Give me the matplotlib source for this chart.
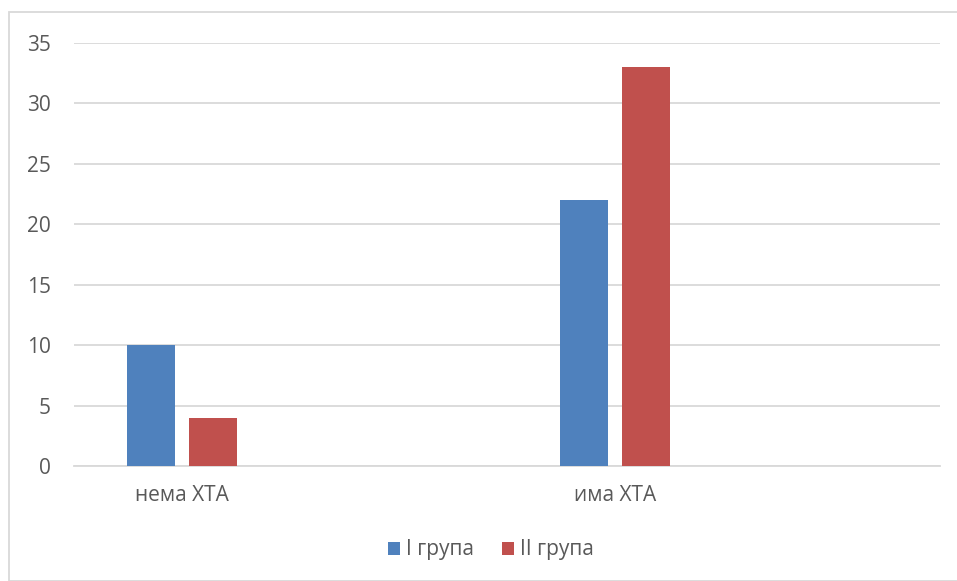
import matplotlib
matplotlib.use("Agg")
import matplotlib.pyplot as plt
import numpy as np

categories = ["нема ХТА", "има ХТА"]
series_names = ["I група", "II група"]
group1 = [10, 22]
group2 = [4, 33]

colors = ["#4F81BD", "#C0504D"]
text_color = "#595959"

plt.rcParams['font.family'] = ['Open Sans', 'DejaVu Sans']

fig = plt.figure(figsize=(9.57, 5.81), dpi=100)
ax = fig.add_axes([74 / 957, 1 - 466 / 581, 866 / 957, 423 / 581])

x = np.arange(len(categories))
width = 0.111
ax.bar(x + 0.1225, group1, width, align="edge", color=colors[0], label=series_names[0], zorder=3)
ax.bar(x + 0.2655, group2, width, align="edge", color=colors[1], label=series_names[1], zorder=3)

ax.set_xlim(0, len(categories))
ax.set_ylim(0, 35)
ax.set_yticks(range(0, 36, 5))
ax.set_xticks(x + 0.249)
ax.set_xticklabels(categories)
ax.yaxis.grid(True, color="#D9D9D9", linewidth=1.3, zorder=0)
ax.tick_params(axis="both", length=0, labelsize=15, colors=text_color)
ax.tick_params(axis="y", pad=16.5)
ax.tick_params(axis="x", pad=14)
for s in ["top", "right", "left"]:
    ax.spines[s].set_visible(False)
ax.spines["bottom"].set_color("#D9D9D9")
ax.spines["bottom"].set_linewidth(1.3)

leg = fig.legend(loc="center", bbox_to_anchor=(0.513, 1 - 550 / 581), ncol=2, frameon=False,
                 fontsize=15, handlelength=0.6, handleheight=0.6, handletextpad=0.3,
                 columnspacing=1.3)
for t in leg.get_texts():
    t.set_color(text_color)

# outer chart border
fig.add_artist(plt.Rectangle((9 / 957, 0), 1, 1 - 12 / 581, transform=fig.transFigure,
                             fill=False, edgecolor="#D9D9D9", linewidth=1.3))

fig.savefig("out.png", dpi=100)
